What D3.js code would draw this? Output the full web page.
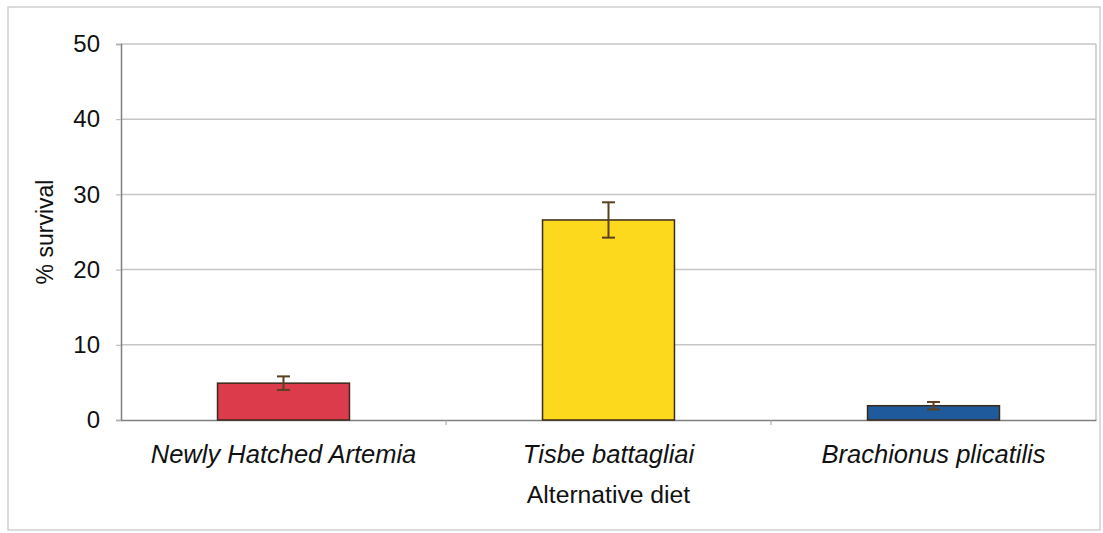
<!DOCTYPE html>
<html><head><meta charset="utf-8">
<script src="https://cdn.jsdelivr.net/npm/d3@7"></script>
<style>body{margin:0;background:#fff}svg{display:block;font-family:"Liberation Sans",Arial,sans-serif}</style>
</head><body><svg id="c" width="1103" height="533"></svg>
<script>
const categories = ["Newly Hatched Artemia", "Tisbe battagliai", "Brachionus plicatilis"];
const survival = [4.9, 26.6, 1.9];
const errors = [0.9, 2.35, 0.5];
const colors = ["#dc3b4c", "#fdd91e", "#1f5b9c"];
const yTicks = [0, 10, 20, 30, 40, 50];

const svg = d3.select("#c");
const m = {l:121, r:1096, t:44, b:420};
svg.append("rect").attr("x",8).attr("y",7).attr("width",1092).attr("height",523)
  .attr("fill","#fff").attr("stroke","#d0d0d0").attr("stroke-width",1.5);

const x = d3.scaleBand().domain(categories).range([m.l, m.r]).paddingInner(0).paddingOuter(0);
const y = d3.scaleLinear().domain([0,50]).range([m.b, m.t]);

// gridlines
svg.append("g").selectAll("line").data(yTicks.filter(d=>d>0)).join("line")
  .attr("x1",m.l).attr("x2",m.r).attr("y1",d=>y(d)).attr("y2",d=>y(d))
  .attr("stroke","#c6c6c6").attr("stroke-width",1.5);
svg.append("line").attr("x1",m.r).attr("x2",m.r).attr("y1",m.t).attr("y2",m.b)
  .attr("stroke","#c6c6c6").attr("stroke-width",1.5);

// y axis
const ya = svg.append("g").attr("transform",`translate(${m.l},0)`)
  .call(d3.axisLeft(y).tickValues(yTicks).tickSize(5).tickPadding(16));
ya.select(".domain").attr("stroke","#808080").attr("stroke-width",1.5);
ya.selectAll(".tick line").attr("stroke","#b0b0b0");
ya.selectAll("text").attr("font-size",24).attr("fill","#111").style("font-family","Liberation Sans, Arial, sans-serif");

// x axis
const xa = svg.append("g").attr("transform",`translate(0,${m.b})`)
  .call(d3.axisBottom(x).tickSize(0).tickPadding(25));
xa.select(".domain").attr("stroke","#808080").attr("stroke-width",1.5);
xa.selectAll("text").attr("font-size",25.5).attr("font-style","italic").attr("fill","#111")
  .style("font-family","Liberation Sans, Arial, sans-serif");
svg.append("g").selectAll("line").data(categories.slice(1)).join("line")
  .attr("x1",d=>x(d)).attr("x2",d=>x(d)).attr("y1",m.b).attr("y2",m.b+5)
  .attr("stroke","#a0a0a0");

const bw = x.bandwidth()*0.406;
const data = categories.map((c,i)=>({c, v:survival[i], e:errors[i], col:colors[i]}));
const bars = svg.append("g").selectAll("g").data(data).join("g");
bars.append("rect")
  .attr("x",d=>x(d.c)+x.bandwidth()/2-bw/2).attr("width",bw)
  .attr("y",d=>y(d.v)).attr("height",d=>y(0)-y(d.v))
  .attr("fill",d=>d.col).attr("stroke","#3a2a1a").attr("stroke-width",1.5);
const eb = bars.append("g").attr("stroke","#5a4020").attr("stroke-width",2);
eb.append("line").attr("x1",d=>x(d.c)+x.bandwidth()/2).attr("x2",d=>x(d.c)+x.bandwidth()/2)
  .attr("y1",d=>y(d.v+d.e)).attr("y2",d=>y(d.v-d.e));
eb.append("line").attr("x1",d=>x(d.c)+x.bandwidth()/2-6.5).attr("x2",d=>x(d.c)+x.bandwidth()/2+6.5)
  .attr("y1",d=>y(d.v+d.e)).attr("y2",d=>y(d.v+d.e));
eb.append("line").attr("x1",d=>x(d.c)+x.bandwidth()/2-6.5).attr("x2",d=>x(d.c)+x.bandwidth()/2+6.5)
  .attr("y1",d=>y(d.v-d.e)).attr("y2",d=>y(d.v-d.e));

svg.append("text").attr("x",(m.l+m.r)/2).attr("y",503).attr("text-anchor","middle")
  .attr("font-size",24.7).attr("fill","#111").text("Alternative diet");
svg.append("text").attr("transform",`translate(53,${(m.t+m.b)/2}) rotate(-90)`)
  .attr("text-anchor","middle").attr("font-size",23).attr("fill","#111").text("% survival");
</script></body></html>
